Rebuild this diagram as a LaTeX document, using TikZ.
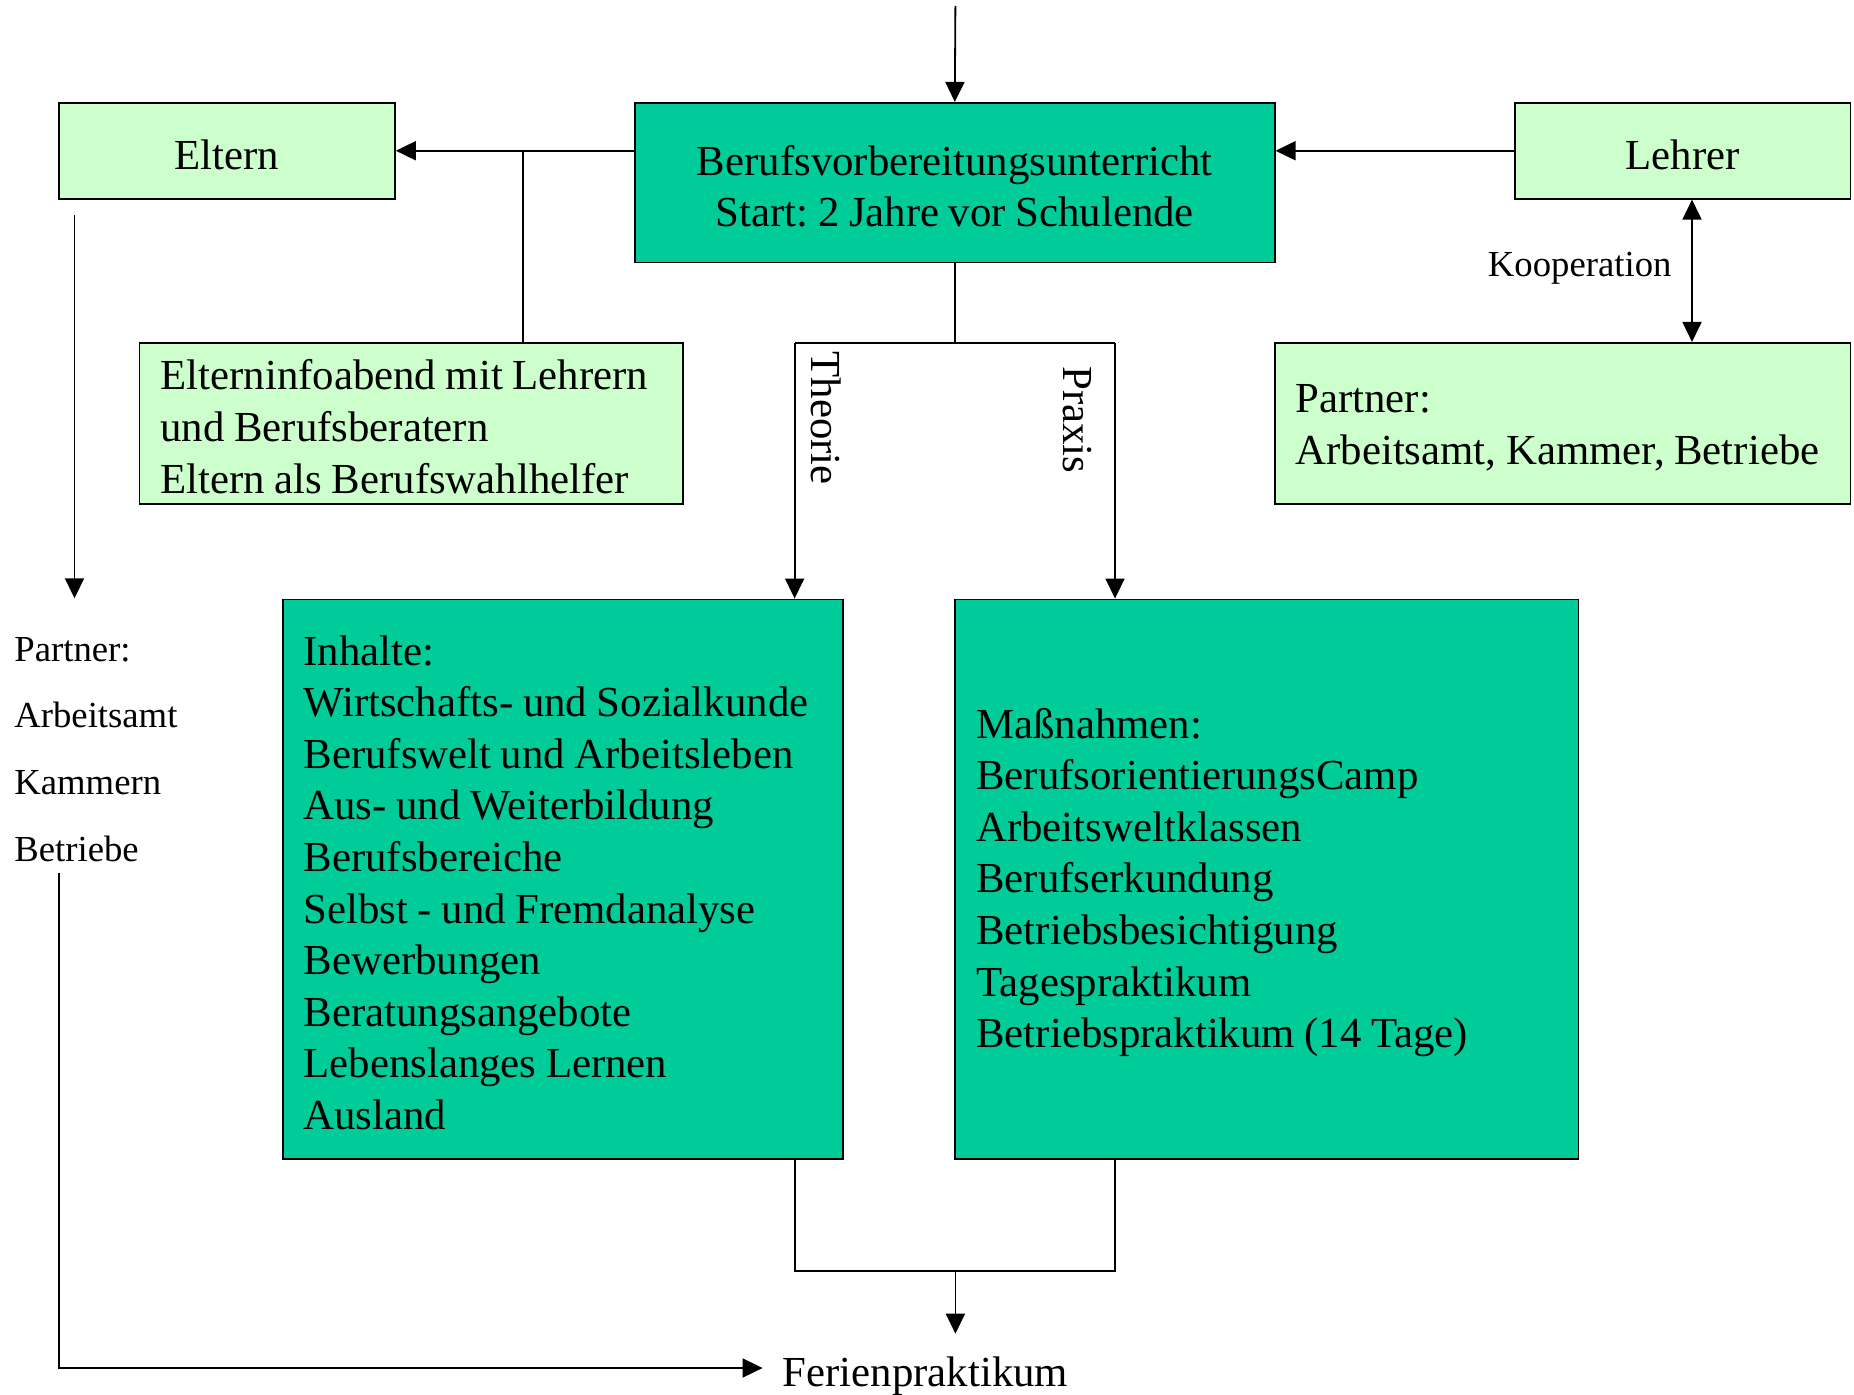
\documentclass[tikz,border=0pt]{standalone}
\usepackage{fontspec}
\setmainfont{Liberation Serif}
\usetikzlibrary{arrows.meta}
\definecolor{dgreen}{HTML}{00CC99}
\definecolor{lgreen}{HTML}{CCFFCC}
\newcommand{\myBigFont}{\fontsize{42.8}{51.6}\selectfont}
\newcommand{\mySmallFont}{\fontsize{36.7}{44}\selectfont}
\newcommand{\myTightSpace}{\fontdimen2\font=9.6pt\relax\spaceskip=9.6pt\relax\xspaceskip=9.6pt\relax}
\begin{document}
\frenchspacing
\begin{tikzpicture}[x=1pt,y=-1pt,
  big/.style={font=\myBigFont},
  small/.style={font=\mySmallFont},
  box/.style={draw=black, line width=1.9pt, inner xsep=21pt, inner ysep=0pt, big,
    execute at begin node={\myTightSpace\rule{0pt}{37pt}}},
  dbox/.style={box, fill=dgreen},
  lbox/.style={box, fill=lgreen},
  conn/.style={line width=1.8pt},
  tip/.tip={Triangle[length=20pt,width=19pt]},
  arr/.style={conn, -tip},
  darr/.style={conn, tip-tip},
  plain/.style={inner sep=0pt}
]
\useasboundingbox (0,0) rectangle (1854,1394);

% boxes
\node[dbox, minimum width=639.6pt, minimum height=159.6pt, text width=597.6pt, align=center] (main) at (954.8,182.7)
  {Berufsvorbereitungsunterricht\\Start: 2 Jahre vor Schulende};
\node[lbox, minimum width=335.8pt, minimum height=95.7pt, align=center] (eltern) at (227,150.75) {Eltern};
\node[lbox, minimum width=335.9pt, minimum height=95.7pt, align=center] (lehrer) at (1682.55,150.75) {Lehrer};
\node[lbox, minimum width=543.9pt, minimum height=160.8pt, text width=501.9pt, align=left] (einfo) at (411.45,423.3)
  {Elterninfoabend mit Lehrern\\und Berufsberatern\\Eltern als Berufswahlhelfer};
\node[lbox, minimum width=575.9pt, minimum height=160.8pt, text width=533.9pt, align=left] (partner) at (1562.55,423.3)
  {Partner:\\Arbeitsamt, Kammer, Betriebe};
\node[dbox, minimum width=560.5pt, minimum height=559.2pt, text width=518.5pt, align=left] (inhalte) at (562.85,879.1)
  {Inhalte:\\Wirtschafts- und Sozialkunde\\Berufswelt und Arbeitsleben\\Aus- und Weiterbildung\\Berufsbereiche\\Selbst - und Fremdanalyse\\Bewerbungen\\Beratungsangebote\\Lebenslanges Lernen\\Ausland};
\node[dbox, minimum width=623.1pt, minimum height=559.2pt, text width=581.1pt, align=left] (massn) at (1266.95,879.1)
  {Maßnahmen:\\BerufsorientierungsCamp\\Arbeitsweltklassen\\Berufserkundung\\Betriebsbesichtigung\\Tagespraktikum\\Betriebspraktikum (14 Tage)};

% free texts
\node[small, plain] (koop) at (1579.7,268.4) {Kooperation};
\node[big, plain, rotate=-90] (theorie) at (826,418) {Theorie};
\node[big, plain, rotate=-90] (praxis) at (1077,420) {Praxis};
\node[small, plain, anchor=base west] (lp1) at (14.2,661) {Partner:};
\node[small, plain, anchor=base west] (lp2) at (14.2,727.3) {Arbeitsamt};
\node[small, plain, anchor=base west] (lp3) at (14.2,794.7) {Kammern};
\node[small, plain, anchor=base west] (lp4) at (14.2,861) {Betriebe};
\node[big, plain, anchor=west] (ferien) at (782.7,1376) {Ferienpraktikum};

% connectors
\coordinate (top) at (955.4,6);
\draw[arr] (top) -- (main.north);
\draw[arr] (main.west |- eltern.east) -- (eltern.east);
\draw[arr] (lehrer.west) -- (lehrer.west -| main.east);
\coordinate (j1) at (522.6,150.75);
\draw[conn] (j1) -- (j1 |- einfo.north);
\coordinate (k) at (1692,0);
\draw[darr] (k |- lehrer.south) -- (k |- partner.north);

\coordinate (sl) at (794.6,342.9);
\coordinate (sr) at (1115,342.9);
\draw[conn] (main.south) -- (main.south |- sl);
\draw[conn] (sl) -- (sr);
\draw[arr] (sl) -- (sl |- inhalte.north);
\draw[arr] (sr) -- (sr |- massn.north);

\coordinate (bl) at (794.6,1271);
\coordinate (br) at (1115,1271);
\draw[conn] (bl |- inhalte.south) -- (bl) -- (br) -- (br |- massn.south);
\coordinate (bm) at (955.4,1271);
\coordinate (fe) at (955.4,1333.7);
\draw[arr] (bm) -- (fe);

\coordinate (la) at (74.5,215.2);
\coordinate (lb) at (74.5,598.3);
\draw[arr] (la) -- (lb);
\coordinate (lc) at (59.1,872.6);
\coordinate (fw) at (762.6,1368);
\draw[arr] (lc) |- (fw);
\end{tikzpicture}
\end{document}
